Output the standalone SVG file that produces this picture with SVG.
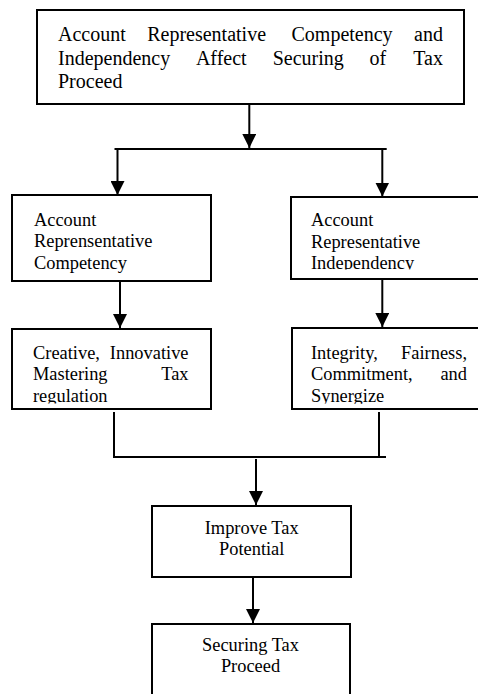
<svg xmlns="http://www.w3.org/2000/svg" width="478" height="694" viewBox="0 0 478 694">
<style>
.box{fill:#fff;stroke:#000;stroke-width:2}
.t{font-family:"Liberation Serif","Times New Roman",serif;fill:#000}
.big{font-size:20px}
.sm{font-size:18.4px}
.c{text-anchor:middle}
.e{text-anchor:end}
.ln{fill:none;stroke:#000;stroke-width:2}
</style>
<defs>
<marker id="ah" markerUnits="userSpaceOnUse" markerWidth="14" markerHeight="14" viewBox="0 0 14 14" refX="14" refY="7" orient="auto">
<path d="M0,0 L14,7 L0,14 z" fill="#000"/>
</marker>
<clipPath id="cR2"><rect x="290" y="190" width="200" height="79.5"/></clipPath>
<clipPath id="cL3"><rect x="10" y="320" width="210" height="83.5"/></clipPath>
<clipPath id="cR3"><rect x="290" y="320" width="200" height="83.8"/></clipPath>
</defs>
<rect width="478" height="694" fill="#fff"/>
<g id="connectors">
<line class="ln" x1="249.3" y1="104" x2="249.3" y2="148" marker-end="url(#ah)"/>
<line class="ln" x1="114.5" y1="149" x2="386.7" y2="149"/>
<line class="ln" x1="117.5" y1="150" x2="117.5" y2="195" marker-end="url(#ah)"/>
<line class="ln" x1="382.3" y1="150" x2="382.3" y2="196.5" marker-end="url(#ah)"/>
<line class="ln" x1="120" y1="281" x2="120" y2="328" marker-end="url(#ah)"/>
<line class="ln" x1="382.3" y1="279" x2="382.3" y2="327" marker-end="url(#ah)"/>
<polyline class="ln" points="114,412 114,457 379,457 379,412"/>
<line class="ln" x1="379" y1="457" x2="386" y2="457"/>
<line class="ln" x1="256" y1="459" x2="256" y2="505" marker-end="url(#ah)"/>
<line class="ln" x1="253" y1="577" x2="253" y2="623" marker-end="url(#ah)"/>
</g>
<g id="n-top">
<rect class="box" x="37" y="10" width="427" height="94"/>
<text class="t big" y="41"><tspan x="58">Account</tspan><tspan x="147.2">Representative</tspan><tspan x="291.5">Competency</tspan></text>
<text class="t big e" x="443" y="41">and</text>
<text class="t big" y="64.7"><tspan x="58">Independency</tspan><tspan x="195.9">Affect</tspan><tspan x="272.7">Securing</tspan><tspan x="369.5">of</tspan></text>
<text class="t big e" x="443" y="64.7">Tax</text>
<text class="t big" x="58" y="88.3">Proceed</text>
</g>
<g id="n-competency">
<rect class="box" x="12" y="195" width="199" height="86"/>
<text class="t sm" x="34" y="225.7">Account</text>
<text class="t sm" x="34" y="247.3">Reprensentative</text>
<text class="t sm" x="34" y="268.6">Competency</text>
</g>
<g id="n-independency">
<rect class="box" x="291" y="197" width="200" height="82"/>
<g clip-path="url(#cR2)">
<text class="t sm" x="311" y="225.7">Account</text>
<text class="t sm" x="311" y="247.5">Representative</text>
<text class="t sm" x="311" y="268.6">Independency</text>
</g>
</g>
<g id="n-creative">
<rect class="box" x="12" y="329" width="199" height="80"/>
<g clip-path="url(#cL3)">
<text class="t sm" y="358.5"><tspan x="33">Creative,</tspan></text>
<text class="t sm e" x="188.5" y="358.5">Innovative</text>
<text class="t sm" x="33" y="380">Mastering</text>
<text class="t sm e" x="188.5" y="380">Tax</text>
<text class="t sm" x="33" y="401.6">regulation</text>
</g>
</g>
<g id="n-integrity">
<rect class="box" x="292" y="328" width="200" height="81"/>
<g clip-path="url(#cR3)">
<text class="t sm" x="311" y="358.5">Integrity,</text>
<text class="t sm e" x="467" y="358.5">Fairness,</text>
<text class="t sm" x="311" y="380">Commitment,</text>
<text class="t sm e" x="467" y="380">and</text>
<text class="t sm" x="311" y="401.8">Synergize</text>
</g>
</g>
<g id="n-improve">
<rect class="box" x="152" y="506" width="199" height="71"/>
<text class="t sm c" x="251.7" y="534">Improve Tax</text>
<text class="t sm c" x="251.7" y="554.5">Potential</text>
</g>
<g id="n-securing">
<rect class="box" x="152" y="624" width="198" height="90"/>
<text class="t sm c" x="250.5" y="651">Securing Tax</text>
<text class="t sm c" x="250.5" y="672">Proceed</text>
</g>
</svg>
